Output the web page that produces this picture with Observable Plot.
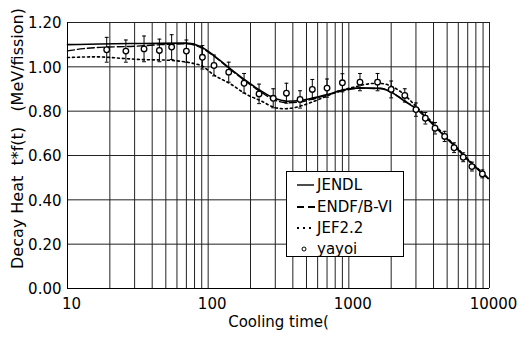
<!DOCTYPE html>
<html>
<head>
<meta charset="utf-8">
<script src="https://cdn.jsdelivr.net/npm/d3@7"></script>
<script src="https://cdn.jsdelivr.net/npm/@observablehq/plot@0.6"></script>
<style>
  html, body { margin: 0; padding: 0; background: #fff; }
  #wrap { position: relative; width: 519px; height: 341px; }
  svg text { white-space: pre; }
  #legend { position: absolute; left: 286px; top: 171px; width: 116px; height: 84px;
    border: 1px solid #000; background: #fff; font-family: "DejaVu Sans", sans-serif; font-size: 15px; color: #000; }
  #legend .row { position: absolute; left: 0; height: 20px; line-height: 20px; }
  #legend svg { position: absolute; left: 9px; top: 4px; }
  #legend span { position: absolute; left: 30px; top: 0; white-space: nowrap; }
</style>
</head>
<body>
<div id="wrap"></div>
<script>
// ---- data ----
const seriesNames = ["JENDL", "ENDF/B-VI", "JEF2.2", "yayoi"];
const xTickLabels = [10, 100, 1000, 10000];
const yTickLabels = [0, 0.2, 0.4, 0.6, 0.8, 1.0, 1.2];

const jendlT = [10, 17, 28, 46, 70, 88, 110, 144, 189, 235, 292, 364, 453, 563, 700, 920, 1200, 1680, 2000, 2450, 3000, 3600, 4250, 5000, 5900, 6900, 8200, 9800];
const jendlV = [1.100, 1.103, 1.105, 1.106, 1.107, 1.092, 1.051, 0.991, 0.934, 0.893, 0.860, 0.845, 0.848, 0.860, 0.875, 0.896, 0.905, 0.903, 0.886, 0.848, 0.811, 0.766, 0.720, 0.675, 0.630, 0.585, 0.540, 0.496];

const endfT = [10, 13, 17, 28, 46, 70, 88, 110, 144, 189, 235, 292, 364, 453, 563, 700, 920, 1200, 1680, 2000, 2450, 3000, 3600, 4250, 5000, 5900, 6900, 8200, 9800];
const endfV = [1.072, 1.082, 1.088, 1.092, 1.100, 1.104, 1.088, 1.048, 0.988, 0.930, 0.888, 0.852, 0.838, 0.842, 0.856, 0.872, 0.893, 0.903, 0.902, 0.886, 0.850, 0.813, 0.768, 0.722, 0.676, 0.631, 0.586, 0.541, 0.497];

const jefT = [10, 16, 26, 33, 51, 64, 79, 91, 109, 144, 189, 235, 292, 343, 404, 506, 628, 871, 1080, 1500, 1680, 2075, 2443, 3000, 3600, 4250, 5000, 5900, 6900, 8200, 9800];
const jefV = [1.042, 1.045, 1.037, 1.033, 1.030, 1.025, 1.015, 1.003, 0.965, 0.923, 0.874, 0.848, 0.818, 0.811, 0.815, 0.833, 0.856, 0.893, 0.908, 0.925, 0.925, 0.908, 0.878, 0.822, 0.774, 0.726, 0.680, 0.634, 0.588, 0.543, 0.498];

const yayoiT = [19, 26, 35, 45, 55, 70, 91, 110, 140, 180, 230, 290, 360, 450, 550, 700, 900, 1200, 1600, 2000, 2500, 3000, 3500, 4100, 4800, 5600, 6500, 7500, 8900];
const yayoiV = [1.077, 1.071, 1.081, 1.074, 1.089, 1.071, 1.043, 1.006, 0.976, 0.926, 0.878, 0.858, 0.881, 0.853, 0.898, 0.904, 0.928, 0.931, 0.931, 0.898, 0.871, 0.807, 0.768, 0.723, 0.686, 0.635, 0.592, 0.550, 0.517];
const yayoiErr = [0.056, 0.050, 0.058, 0.051, 0.056, 0.050, 0.053, 0.047, 0.045, 0.044, 0.044, 0.043, 0.045, 0.039, 0.045, 0.041, 0.041, 0.039, 0.039, 0.038, 0.030, 0.030, 0.026, 0.026, 0.023, 0.022, 0.020, 0.020, 0.018];

const xLabel = "Cooling time(";
const yLabel = "Decay Heat  t*f(t)   (MeV/fission)";

// ---- build ----
const jendl = jendlT.map((t, i) => ({t, v: jendlV[i]}));
const endf = endfT.map((t, i) => ({t, v: endfV[i]}));
const jef = jefT.map((t, i) => ({t, v: jefV[i]}));
const yayoi = yayoiT.map((t, i) => ({t, v: yayoiV[i], lo: yayoiV[i] - yayoiErr[i], hi: yayoiV[i] + yayoiErr[i]}));

const gridX = d3.scaleLog().domain([10, 10000]).ticks();

const capSymbol = {
  draw(context, size) {
    const r = Math.sqrt(size) / 2;
    context.moveTo(-r, 0);
    context.lineTo(r, 0);
  }
};

const chart = Plot.plot({
  width: 519,
  height: 341,
  marginLeft: 67,
  marginRight: 30,
  marginTop: 22,
  marginBottom: 53,
  style: { fontFamily: "DejaVu Sans, sans-serif", fontSize: "15px", background: "#fff", color: "#000" },
  x: { type: "log", domain: [10, 10000], axis: null },
  y: { domain: [0, 1.2], axis: null },
  marks: [
    Plot.ruleX(gridX, { x: d => d, stroke: "#222", strokeWidth: 1 }),
    Plot.ruleY(yTickLabels, { y: d => d, stroke: "#222", strokeWidth: 1 }),
    Plot.ruleX([10], { x: d => d, stroke: "#000", strokeWidth: 1 }),
    Plot.ruleY([0], { y: d => d, stroke: "#000", strokeWidth: 1 }),
    Plot.line(jef, { x: "t", y: "v", curve: "monotone-x", stroke: "#000", strokeWidth: 1.6, strokeDasharray: "2,3" }),
    Plot.line(endf, { x: "t", y: "v", curve: "monotone-x", stroke: "#000", strokeWidth: 1.4, strokeDasharray: "7,3" }),
    Plot.line(jendl, { x: "t", y: "v", curve: "monotone-x", stroke: "#000", strokeWidth: 1.6 }),
    Plot.ruleX(yayoi, { x: "t", y1: "lo", y2: "hi", stroke: "#000", strokeWidth: 1 }),
    Plot.dot(yayoi, { x: "t", y: "lo", symbol: capSymbol, r: 2.2, stroke: "#000", fill: "none", strokeWidth: 1 }),
    Plot.dot(yayoi, { x: "t", y: "hi", symbol: capSymbol, r: 2.2, stroke: "#000", fill: "none", strokeWidth: 1 }),
    Plot.dot(yayoi, { x: "t", y: "v", r: 2.8, stroke: "#000", fill: "#fff", strokeWidth: 1.3 }),
    Plot.text(yTickLabels, { y: d => d, frameAnchor: "left", textAnchor: "end", dx: -6, dy: 1, text: d => d.toFixed(2), fill: "#000" }),
    Plot.text(xTickLabels, { x: d => d, frameAnchor: "bottom", dy: 20, dx: 4, text: d => String(d), fill: "#000" }),
    Plot.text([xLabel], { frameAnchor: "bottom", dy: 38, text: d => d, fill: "#000" }),
    Plot.text([yLabel], { frameAnchor: "left", textAnchor: "middle", rotate: -90, dx: -50, dy: -17, text: d => d, fill: "#000", fontSize: 16 })
  ]
});

const wrap = document.getElementById("wrap");
wrap.appendChild(chart);

// legend
const legend = document.createElement("div");
legend.id = "legend";
const samples = [
  `<svg width="20" height="12"><line x1="1" y1="6" x2="18" y2="6" stroke="#000" stroke-width="1.4"/></svg>`,
  `<svg width="20" height="12"><line x1="1" y1="6" x2="19" y2="6" stroke="#000" stroke-width="2" stroke-dasharray="7,4"/></svg>`,
  `<svg width="20" height="12"><line x1="1" y1="6" x2="19" y2="6" stroke="#000" stroke-width="2" stroke-dasharray="2,4"/></svg>`,
  `<svg width="20" height="12"><circle cx="8" cy="6" r="2" fill="#fff" stroke="#000" stroke-width="1"/></svg>`
];
const rowTops = [3, 24.5, 45.5, 67];
seriesNames.forEach((name, i) => {
  const row = document.createElement("div");
  row.className = "row";
  row.style.top = rowTops[i] + "px";
  row.innerHTML = samples[i] + `<span>${name}</span>`;
  legend.appendChild(row);
});
wrap.appendChild(legend);
</script>
</body>
</html>
